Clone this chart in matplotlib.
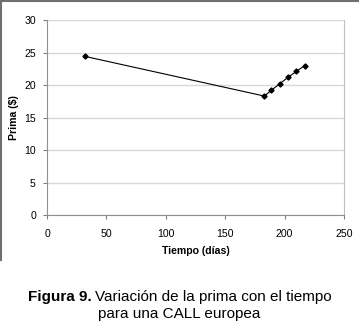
import matplotlib
matplotlib.use('Agg')
import matplotlib.pyplot as plt
from matplotlib.lines import Line2D

plt.rcParams['font.family'] = ['Liberation Sans', 'DejaVu Sans']

# Data
dias = [32, 183, 189, 196, 203, 210, 217]
prima = [24.4, 18.3, 19.2, 20.2, 21.2, 22.1, 23.0]
xticks = [0, 50, 100, 150, 200, 250]
yticks = [0, 5, 10, 15, 20, 25, 30]

fig = plt.figure(figsize=(3.59, 3.27), dpi=100)
ax = fig.add_axes([0.131, 0.3425, 0.827, 0.5963])

ax.plot(dias, prima, color='black', lw=0.8, marker='D', ms=2.6)

ax.set_xlim(0, 250)
ax.set_ylim(0, 30)
ax.set_xticks(xticks)
ax.set_yticks(yticks)
ax.tick_params(labelsize=7.6, length=3, width=0.8, color='#808080')
ax.tick_params(axis='x', pad=7)
ax.tick_params(axis='y', pad=5)
ax.grid(axis='y', color='#d8d8d8', lw=1.0)
ax.set_axisbelow(True)
for s in ['left', 'bottom']:
    ax.spines[s].set_color('#909090')
ax.spines['right'].set_color('#c0c0c0')
ax.spines['top'].set_visible(False)

ax.set_xlabel('Tiempo (días)', fontsize=7.6, fontweight='bold', labelpad=5)
ax.set_ylabel('Prima ($)', fontsize=7.6, fontweight='bold', labelpad=4)

# frame around the chart area
fig.add_artist(Line2D([0.002, 0.002], [1 - 260 / 327, 1.0], color='#707070', lw=1.5))
fig.add_artist(Line2D([0.0, 1.0], [0.998, 0.998], color='#707070', lw=1.5))

# caption
t1 = fig.text(28 / 359, 1 - 297 / 327, 'Figura 9.', fontsize=11, fontweight='bold', va='center')
fig.canvas.draw()
bb = t1.get_window_extent()
x2 = (bb.x1 + 3) / fig.bbox.width
fig.text(x2, 1 - 297 / 327, 'Variación de la prima con el tiempo', fontsize=11, va='center')
fig.text(0.5, 1 - 314 / 327, 'para una CALL europea', fontsize=11, ha='center', va='center')

fig.savefig('out.png', dpi=100)
